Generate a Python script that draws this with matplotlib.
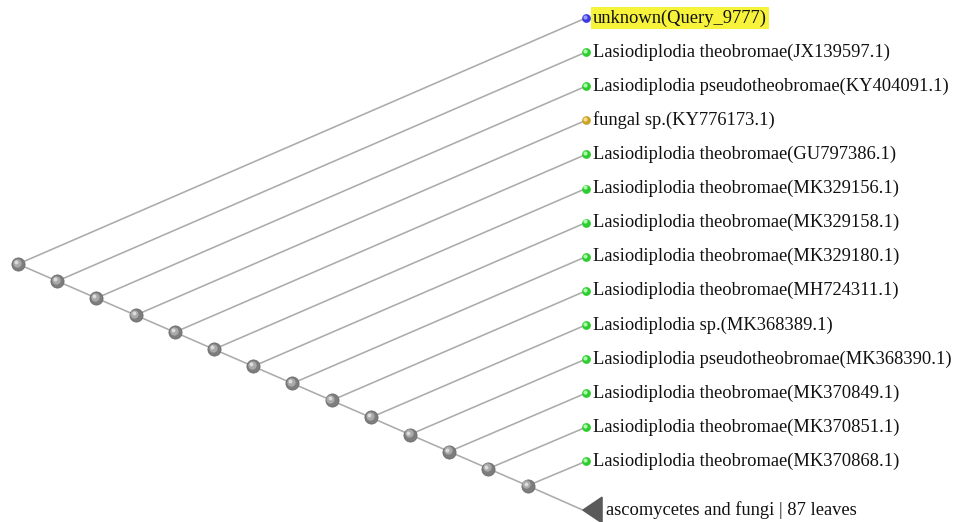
import matplotlib
matplotlib.use("Agg")
import matplotlib.pyplot as plt
import matplotlib.transforms as mtransforms
from matplotlib.patches import Polygon
import numpy as np

# ---- data ----
leaf_labels = [
    "unknown(Query_9777)",
    "Lasiodiplodia theobromae(JX139597.1)",
    "Lasiodiplodia pseudotheobromae(KY404091.1)",
    "fungal sp.(KY776173.1)",
    "Lasiodiplodia theobromae(GU797386.1)",
    "Lasiodiplodia theobromae(MK329156.1)",
    "Lasiodiplodia theobromae(MK329158.1)",
    "Lasiodiplodia theobromae(MK329180.1)",
    "Lasiodiplodia theobromae(MH724311.1)",
    "Lasiodiplodia sp.(MK368389.1)",
    "Lasiodiplodia pseudotheobromae(MK368390.1)",
    "Lasiodiplodia theobromae(MK370849.1)",
    "Lasiodiplodia theobromae(MK370851.1)",
    "Lasiodiplodia theobromae(MK370868.1)",
]
leaf_kind = ["query", "green", "green", "gold"] + ["green"] * 10
collapsed_label = "ascomycetes and fungi | 87 leaves"
collapsed_leaves = 87

kind_colors = {"query": ("#3a3ae0", "#9a9aff"),
               "green": ("#2ecc2e", "#aaffaa"),
               "gold": ("#c9a227", "#f3dc8a")}

# ---- layout (slanted cladogram, ladder tree) ----
n_leaves = len(leaf_labels)
n_nodes = n_leaves                      # one internal node per leaf on the spine
leaf_rows = np.arange(n_leaves, dtype=float)
collapsed_row = n_leaves + 0.43
leaf_depth = n_nodes + 0.49
node_depth = np.arange(n_nodes, dtype=float)
root_row = (leaf_rows[0] + collapsed_row) / 2
last_row = (leaf_rows[-1] + collapsed_row) / 2
node_rows = np.linspace(root_row, last_row, n_nodes)

W, H = 956, 522
fig = plt.figure(figsize=(W / 100, H / 100), dpi=100)
ax = fig.add_axes([0, 0, 1, 1])
px_x0, px_dx = 18.0, 39.2
px_y0, px_dy = 18.0, 34.1
ax.set_xlim(-px_x0 / px_dx, (W - px_x0) / px_dx)
ax.set_ylim((H - px_y0) / px_dy, -px_y0 / px_dy)
ax.axis("off")

line_kw = dict(color="#ababab", lw=1.15, zorder=1, solid_capstyle="round")
# spine + branches
for i in range(n_nodes):
    ax.plot([node_depth[i], leaf_depth], [node_rows[i], leaf_rows[i]], **line_kw)
    if i + 1 < n_nodes:
        ax.plot([node_depth[i], node_depth[i + 1]], [node_rows[i], node_rows[i + 1]], **line_kw)
tip_depth = leaf_depth - 0.08
ax.plot([node_depth[-1], tip_depth], [node_rows[-1], collapsed_row], **line_kw)

# collapsed triangle
tri_w, tri_h = 0.49, 0.38
ax.add_patch(Polygon([[tip_depth, collapsed_row],
                      [tip_depth + tri_w, collapsed_row - tri_h],
                      [tip_depth + tri_w, collapsed_row + tri_h]],
                     closed=True, facecolor="#5a5a5a", edgecolor="#5a5a5a", zorder=2))

hl = mtransforms.offset_copy(ax.transData, fig=fig, x=-1.2, y=1.2, units="dots")

# internal nodes (shaded spheres)
ax.scatter(node_depth, node_rows, s=9.5 ** 2, color="#7d7d7d", edgecolor="#666666",
           linewidth=0.5, zorder=3)
ax.scatter(node_depth, node_rows, s=6 ** 2, color="#a9a9a9", linewidth=0, zorder=4,
           transform=hl)
hl2 = mtransforms.offset_copy(ax.transData, fig=fig, x=-2.0, y=2.0, units="dots")
ax.scatter(node_depth, node_rows, s=2.8 ** 2, color="#dcdcdc", linewidth=0, zorder=5,
           transform=hl2)

# leaf markers and labels
font = ["Liberation Serif", "DejaVu Serif"]
fs = 13.3
for r, lab, k in zip(leaf_rows, leaf_labels, leaf_kind):
    base, light = kind_colors[k]
    ax.scatter([leaf_depth], [r], s=6.3 ** 2, color=base, linewidth=0, zorder=3)
    ax.scatter([leaf_depth], [r], s=3 ** 2, color=light, linewidth=0, zorder=4,
               transform=hl)
    bbox = None
    if k == "query":
        bbox = dict(boxstyle="square,pad=0.1", facecolor="#f7f23a", edgecolor="none")
    ax.annotate(lab, (leaf_depth, r), xytext=(4.8, 0), textcoords="offset points",
                ha="left", va="center", fontsize=fs, family=font, color="#111111",
                bbox=bbox, zorder=6)

ax.annotate(collapsed_label, (tip_depth + tri_w, collapsed_row), xytext=(2.5, 0),
            textcoords="offset points", ha="left", va="center", fontsize=fs,
            family=font, color="#111111", zorder=6)

fig.savefig("out.png", dpi=100)
